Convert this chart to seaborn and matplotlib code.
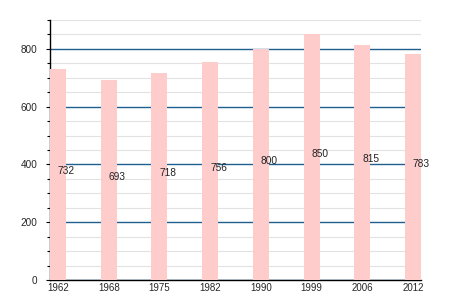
import matplotlib
matplotlib.use("Agg")
import matplotlib.pyplot as plt
import seaborn as sns
import pandas as pd
from matplotlib.ticker import MultipleLocator

years = ["1962", "1968", "1975", "1982", "1990", "1999", "2006", "2012"]
values = [732, 693, 718, 756, 800, 850, 815, 783]

sns.set_style("white")
plt.rcParams['font.family'] = ['Liberation Sans', 'DejaVu Sans']

df = pd.DataFrame({"year": years, "value": values})

fig = plt.figure(figsize=(4.5, 3), dpi=100)
ax = fig.add_axes([50/450, 20/300, 371/450, 260/300])

sns.barplot(data=df, x="year", y="value", color="#ffcccc", saturation=1,
            width=0.316, ax=ax, zorder=3, edgecolor="none")

ax.set_xlim(-0.158, len(years) - 1 + 0.158)
ax.set_ylim(0, 900)
ax.yaxis.set_major_locator(MultipleLocator(200))
ax.yaxis.set_minor_locator(MultipleLocator(50))
ax.grid(which="minor", axis="y", color="#e2e2e2", linewidth=0.8, zorder=0)
ax.grid(which="major", axis="y", color="#1f5f8f", linewidth=1.0, zorder=1)
ax.set_axisbelow(True)

for i, v in enumerate(values):
    ax.text(i, v / 2, str(v), ha="left", va="baseline", fontsize=7.3,
            color="#222222", zorder=5)

for s in ["top", "right"]:
    ax.spines[s].set_visible(False)
for s in ["left", "bottom"]:
    ax.spines[s].set_color("black")
    ax.spines[s].set_linewidth(1.0)

ax.tick_params(axis="y", which="major", length=3, width=0.8, color="black",
               labelsize=7.2, pad=6, left=True)
ax.tick_params(axis="y", which="minor", length=2, width=0.8, color="black", left=True)
ax.tick_params(axis="x", length=0, labelsize=7.0, pad=2)
ax.set_xlabel("")
ax.set_ylabel("")

fig.savefig("out.png", dpi=100)
